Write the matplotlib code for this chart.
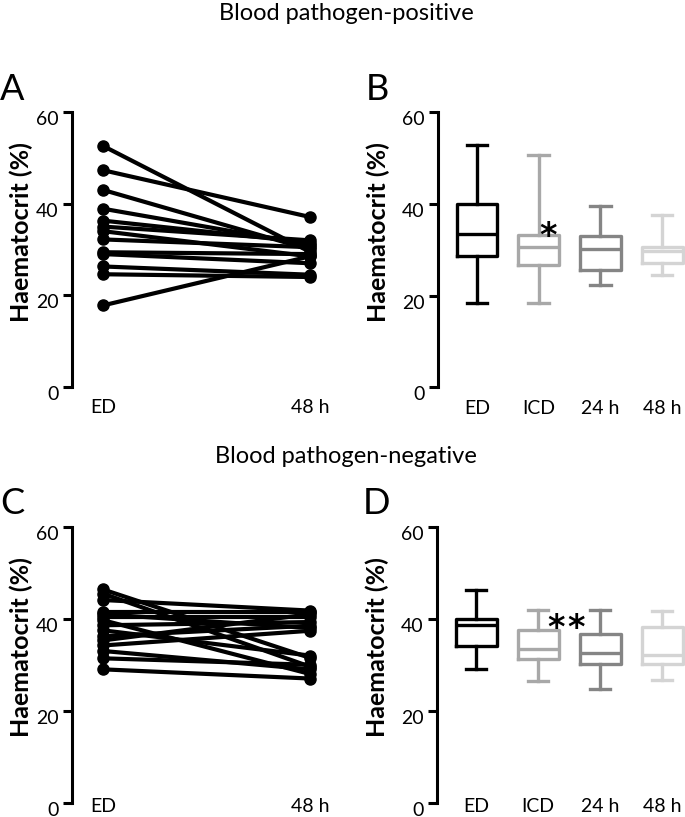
import numpy as np
import matplotlib
matplotlib.use('Agg')
import matplotlib.pyplot as plt
from matplotlib.transforms import ScaledTranslation

plt.rcParams['font.family'] = ['Lato', 'DejaVu Sans']

# paired values, blood pathogen-positive (panel A)
pos_ed = [52.6, 47.3, 43.0, 38.9, 36.3, 35.0, 34.0, 32.2, 29.4, 29.0, 26.3, 24.6, 17.8]
pos_48 = [29.5, 37.1, 30.0, 31.0, 31.5, 32.0, 28.5, 30.5, 29.0, 27.0, 24.5, 24.0, 28.5]

# paired values, blood pathogen-negative (panel C)
neg_ed = [46.4, 45.5, 44.1, 41.5, 41.0, 40.5, 39.7, 38.6, 37.5, 36.2, 35.3, 34.2, 33.0, 31.4, 29.0]
neg_48 = [31.5, 29.6, 41.8, 41.5, 38.0, 40.5, 28.0, 39.3, 32.0, 38.5, 41.0, 37.4, 29.0, 30.0, 27.0]

pair_labels = ['ED', '48 h']
box_labels = ['ED', 'ICD', '24 h', '48 h']
box_colors = ['#000000', '#a8a8a8', '#858585', '#d4d4d4']

# box stats: whisker low, q1, median, q3, whisker high
pos_lo = [18.4, 18.4, 22.3, 24.4]
pos_q1 = [28.7, 26.6, 25.5, 27.1]
pos_med = [33.5, 30.5, 30.1, 29.7]
pos_q3 = [40.0, 33.2, 32.9, 30.6]
pos_hi = [52.8, 50.6, 39.5, 37.5]

neg_lo = [29.1, 26.5, 24.7, 26.7]
neg_q1 = [34.0, 31.2, 30.1, 30.1]
neg_med = [38.6, 33.5, 32.5, 32.1]
neg_q3 = [39.9, 37.5, 36.8, 38.2]
neg_hi = [46.2, 42.0, 42.0, 41.8]

W, H = 685, 817
fig = plt.figure(figsize=(W / 100, H / 100), dpi=100)

def rect(x0, x1, ytop, ybot):
    return [x0 / W, 1 - ybot / H, (x1 - x0) / W, (ybot - ytop) / H]

def style_axis(ax, pad, labx):
    ax.set_ylim(0, 60)
    ax.set_yticks([0, 20, 40, 60])
    for s in ['top', 'right', 'bottom']:
        ax.spines[s].set_visible(False)
    ax.spines['left'].set_linewidth(2.2)
    ax.tick_params(axis='y', width=2.2, length=6.5, labelsize=14, pad=3)
    ax.tick_params(axis='x', length=0, labelsize=14, pad=pad)
    # tick labels sit a little below their ticks in the original
    shift = ScaledTranslation(0, -6 / 100, fig.dpi_scale_trans)
    for t in ax.get_yticklabels():
        t.set_transform(t.get_transform() + shift)
    ax.set_ylabel('Haematocrit (%)', fontsize=18, fontweight='bold')
    ax.yaxis.set_label_coords(labx, 0.565)
    ax.yaxis.label.set_va('center')
    ax.yaxis.label.set_ha('center')
    ax.patch.set_visible(False)

def pair_panel(ax, ed, h48, pad):
    for a, b in zip(ed, h48):
        ax.plot([0, 1], [a, b], color='black', lw=3, marker='o', ms=8, solid_capstyle='round')
    ax.set_xlim(-0.15, 1.17)
    ax.set_xticks([0, 1])
    ax.set_xticklabels(pair_labels)
    style_axis(ax, pad, -0.185)

def box_panel(ax, lo, q1, med, q3, hi, pad):
    stats = []
    for i in range(len(box_labels)):
        stats.append({'whislo': lo[i], 'q1': q1[i], 'med': med[i], 'q3': q3[i], 'whishi': hi[i],
                      'label': box_labels[i]})
    pos = np.arange(1, len(box_labels) + 1)
    for i in range(len(stats)):
        c = box_colors[i]
        ax.bxp([stats[i]], positions=[pos[i]], widths=0.66, showfliers=False,
               boxprops=dict(color=c, lw=2.4), medianprops=dict(color=c, lw=2.4),
               whiskerprops=dict(color=c, lw=2.4), capprops=dict(color=c, lw=2.4))
    ax.set_xlim(0.37, 4.37)
    ax.set_xticks(pos)
    ax.set_xticklabels(box_labels)
    style_axis(ax, pad, -0.24)

star = dict(fontsize=24, fontweight='bold', ha='center', va='baseline', family='DejaVu Sans')

axA = fig.add_axes(rect(72, 345, 112, 387))
pair_panel(axA, pos_ed, pos_48, 9)
axB = fig.add_axes(rect(438, 685, 112, 387.3))
box_panel(axB, pos_lo, pos_q1, pos_med, pos_q3, pos_hi, 9)
axB.text(2.16, 30.9, '*', **star)

axC = fig.add_axes(rect(72, 345, 527, 802.5))
pair_panel(axC, neg_ed, neg_48, -3)
axD = fig.add_axes(rect(437, 685, 527, 802.5))
box_panel(axD, neg_lo, neg_q1, neg_med, neg_q3, neg_hi, -3)
axD.text(2.29, 35.9, '*', **star)
axD.text(2.61, 35.9, '*', **star)

fig.text(346 / W, 1 - 20 / H, 'Blood pathogen-positive', fontsize=17, ha='center', va='baseline')
fig.text(346 / W, 1 - 463 / H, 'Blood pathogen-negative', fontsize=17, ha='center', va='baseline')
for lab, x, y in [('A', 12, 90), ('B', 377, 90), ('C', 12, 504), ('D', 377, 504)]:
    fig.text(x / W, 1 - y / H, lab, fontsize=26, ha='center', va='center')

fig.savefig('out.png', dpi=100)
